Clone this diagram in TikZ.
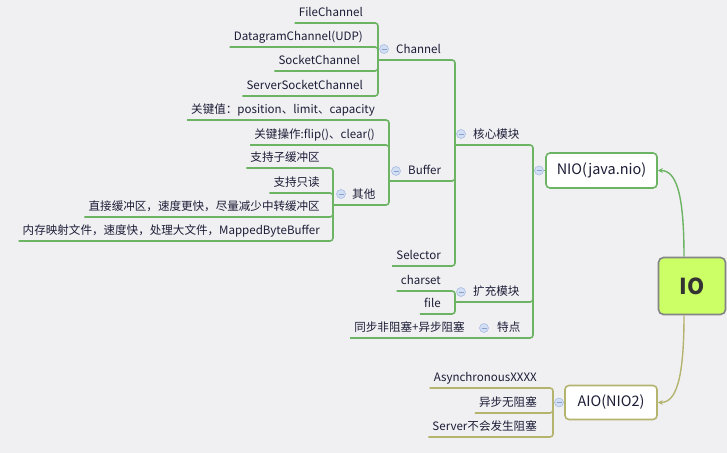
\documentclass[tikz,border=0pt]{standalone}
\usepackage{fontspec}
\setmainfont{Noto Sans CJK SC}
\usetikzlibrary{arrows.meta}
\definecolor{bgc}{HTML}{F0F0F3}
\definecolor{gc}{HTML}{6CB464}
\definecolor{oc}{HTML}{B4B46E}
\definecolor{tc}{HTML}{1C1C36}
\definecolor{iofill}{HTML}{CCFF66}
\definecolor{iodraw}{HTML}{858585}
\definecolor{cbf}{HTML}{D2DEF4}
\definecolor{cbd}{HTML}{AABEE1}
\definecolor{cbm}{HTML}{8CA0CC}
\begin{document}
\begin{tikzpicture}[x=1bp,y=-1bp,
  gline/.style={draw=gc,line width=1.6bp,rounded corners=3bp},
  oline/.style={draw=oc,line width=1.6bp,rounded corners=3bp},
  topic/.style={font=\fontsize{11.6}{13}\selectfont,text=tc,inner xsep=4bp,inner ysep=3bp,text height=9bp,text depth=3bp},
  leaf/.style={topic,anchor=south east},
  mid/.style={topic,anchor=south west},
  btn/.style={circle,draw=cbd,fill=cbf,line width=0.6bp,minimum size=9bp,inner sep=0pt,
    path picture={\draw[cbm,line width=0.9bp] ([xshift=-2.5bp]path picture bounding box.center) -- ([xshift=2.5bp]path picture bounding box.center);}},
  mainbox/.style={rectangle,rounded corners=4bp,fill=white,line width=1.6bp,text=tc,font=\fontsize{14.5}{16}\selectfont,inner sep=0pt},
]
\fill[bgc] (0,0) rectangle (727,453);
\useasboundingbox (0,0) rectangle (727,453);

% main boxes
\node[rectangle,rounded corners=5bp,fill=iofill,draw=iodraw,line width=1.6bp,minimum width=67bp,minimum height=57bp,text=black!80,font=\fontsize{22}{24}\selectfont\bfseries] (io) at (692,286) {IO};
\node[mainbox,draw=gc,minimum width=111bp,minimum height=35bp] (nio) at (601.5,170.5) {NIO(java.nio)};
\node[mainbox,draw=oc,minimum width=92bp,minimum height=34bp] (aio) at (611,402.5) {AIO(NIO2)};

% junction coordinates
\coordinate (chV) at (378,60);
\coordinate (bfV) at (389,181);
\coordinate (otV) at (333,205);
\coordinate (coreV) at (455,145);
\coordinate (extV) at (455,302);
\coordinate (tdV) at (478,338);
\coordinate (nioV) at (533,170.5);
\coordinate (aioV) at (553,402.5);

% leaf topics
\node[leaf] (fc) at (367,23) {FileChannel};
\node[leaf] (dc) at (367,47) {DatagramChannel(UDP)};
\node[leaf] (sc) at (364,71) {SocketChannel};
\node[leaf] (ssc) at (367,96) {ServerSocketChannel};
\node[leaf] (kv) at (379,120) {关键值：position、limit、capacity};
\node[leaf] (ko) at (379,145) {关键操作:flip()、clear()};
\node[leaf] (s1) at (324,168) {支持子缓冲区};
\node[leaf] (s2) at (324,193) {支持只读};
\node[leaf] (s3) at (324,217) {直接缓冲区，速度更快，尽量减少中转缓冲区};
\node[leaf] (s4) at (324,241) {内存映射文件，速度快，处理大文件，MappedByteBuffer};
\node[leaf] (sel) at (445,266) {Selector};
\node[leaf] (cs) at (445,291) {charset};
\node[leaf] (fi) at (445,314) {file};
\node[leaf] (tb) at (469,338) {同步非阻塞+异步阻塞};
\node[leaf] (a1) at (541,388) {AsynchronousXXXX};
\node[leaf] (a2) at (541,413) {异步无阻塞};
\node[leaf] (a3) at (541,437) {Server不会发生阻塞};

% mid topics
\node[mid] (ch) at (392,60) {Channel};
\node[mid] (bf) at (404,181) {Buffer};
\node[mid] (ot) at (348,205) {其他};
\node[mid] (core) at (469,145) {核心模块};
\node[mid] (ext) at (469,302) {扩充模块};
\node[mid] (td) at (493,338) {特点};

% connectors: Channel family
\draw[gline] (fc.south west) -| (chV);
\draw[gline] (dc.south west) -| (chV);
\draw[gline] (sc.south west) -| (chV);
\draw[gline] (ssc.south west) -| (chV);
\draw[gline] (chV) -| (coreV);
% Buffer family
\draw[gline] (kv.south west) -| (bfV);
\draw[gline] (ko.south west) -| (bfV);
\draw[gline] (s1.south west) -| (otV);
\draw[gline] (s2.south west) -| (otV);
\draw[gline] (s3.south west) -| (otV);
\draw[gline] (s4.south west) -| (otV);
\draw[gline] (otV) -| (bfV);
\draw[gline] (bfV) -| (coreV);
\draw[gline] (sel.south west) -| (coreV);
\draw[gline] (coreV) -| (nioV);
% extension
\draw[gline] (cs.south west) -| (extV);
\draw[gline] (fi.south west) -| (extV);
\draw[gline] (extV) -| (nioV);
% features
\draw[gline] (tb.south west) -- (tdV);
\draw[gline] (tdV) -| (nioV);
\draw[gline] (nioV) -- (nio.west);
% AIO
\draw[oline] (a1.south west) -| (aioV);
\draw[oline] (a2.south west) -| (aioV);
\draw[oline] (a3.south west) -| (aioV);
\draw[oline] (aioV) -- (aio.west);

% root connectors
\draw[draw=gc,line width=1.4bp,-{Stealth[length=5bp,width=5bp]}] ([xshift=-8bp]io.north) .. controls +(0,-65) and +(18,0) .. (nio.east);
\draw[draw=oc,line width=1.4bp,-{Stealth[length=5bp,width=5bp]}] ([xshift=-8bp]io.south) .. controls +(0,65) and +(18,0) .. (aio.east);

% collapse buttons
\node[btn] (chB) at (384,49) {};
\node[btn] (bfB) at (396,171) {};
\node[btn] (otB) at (341,194) {};
\node[btn] (coreB) at (461,134) {};
\node[btn] (extB) at (461,292) {};
\node[btn] (tdB) at (484,328) {};
\node[btn] (nioB) at (539,170.5) {};
\node[btn] (aioB) at (559,402.5) {};
\end{tikzpicture}
\end{document}
